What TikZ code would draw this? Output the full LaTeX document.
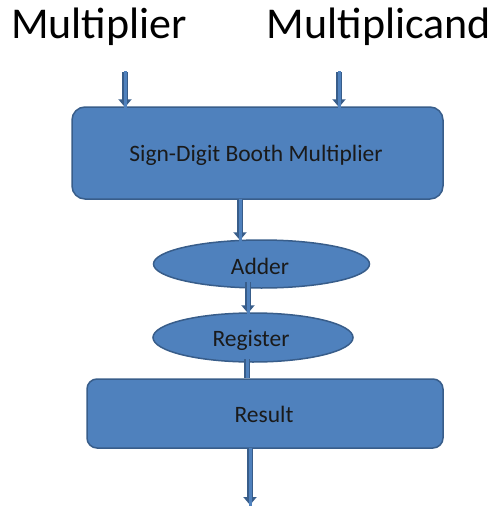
\documentclass[tikz,border=0pt]{standalone}
\usepackage{fontspec}
\setmainfont{Carlito}
\usetikzlibrary{shapes.geometric,arrows.meta}
\definecolor{fillblue}{HTML}{4F81BD}
\definecolor{edgeblue}{HTML}{385D8A}
\definecolor{txt}{HTML}{1A1A1A}
\tikzset{
  blockbox/.style={draw=edgeblue, line width=1.5pt, fill=fillblue, inner sep=0pt, text=txt, font=\fontsize{23.5}{26}\selectfont},
  ellbox/.style={ellipse, draw=edgeblue, line width=1.5pt, fill=fillblue, inner sep=0pt, text=txt, font=\fontsize{23.5}{26}\selectfont},
  title/.style={anchor=base, inner sep=0pt, text=black, font=\fontsize{44}{48}\selectfont},
  arrouter/.style={draw=edgeblue, line width=6pt, -{Triangle[length=8pt,width=13pt]}, shorten >=-1pt},
  arrinner/.style={draw=fillblue, line width=3pt},
}
\begin{document}
\begin{tikzpicture}[x=1pt,y=-1pt]
\useasboundingbox (0,0) rectangle (491,506);
\node[title] (t1) at (99,38) {Multiplier};
\node[title] (t2) at (379,38) {Multiplicand};
\node[blockbox, rounded corners=13pt, minimum width=371pt, minimum height=92pt] (sdb) at (257.5,153) {};
\node[text=txt, font=\fontsize{23.5}{26}\selectfont] (sdbt) at (256,155) {Sign-Digit Booth Multiplier};
\node[ellbox, minimum width=216pt, minimum height=48pt] (add) at (261.5,264) {};
\node[text=txt, font=\fontsize{23.5}{26}\selectfont] (addt) at (260,266) {Adder};
\node[ellbox, minimum width=200pt, minimum height=49pt] (reg) at (253,337.5) {};
\node[text=txt, font=\fontsize{23.5}{26}\selectfont] (regt) at (251,340) {Register};
\node[blockbox, rounded corners=10pt, minimum width=356pt, minimum height=69pt] (res) at (265,413.5) {};
\node[text=txt, font=\fontsize{23.5}{26}\selectfont] (rest) at (264,414) {Result};
\coordinate (in1) at (125,72);
\coordinate (in2) at (339,72);
\coordinate (a1) at (240,199);
\coordinate (a2) at (248,282);
\coordinate (a3) at (247,359);
\coordinate (a4) at (250,448);
\coordinate (out) at (250,504);
% arrows
\draw[arrouter] (in1) -- (in1 |- sdb.north);
\draw[arrouter] (in2) -- (in2 |- sdb.north);
\draw[arrouter] (a1) -- (a1 |- add.north);
\draw[arrouter] (a2) -- (a2 |- reg.north);
\draw[edgeblue, line width=6pt] (a3) -- (a3 |- res.north);
\draw[arrouter] (a4) -- (out);
\draw[arrinner] ([yshift=1pt]in1) -- ([yshift=-9pt]in1 |- sdb.north);
\draw[arrinner] ([yshift=1pt]in2) -- ([yshift=-9pt]in2 |- sdb.north);
\draw[arrinner] (a1) -- ([yshift=-9pt]a1 |- add.north);
\draw[arrinner] (a2) -- ([yshift=-9pt]a2 |- reg.north);
\draw[arrinner] (a3) -- (a3 |- res.north);
\draw[arrinner] (a4) -- ([yshift=-9pt]out);
\end{tikzpicture}
\end{document}
